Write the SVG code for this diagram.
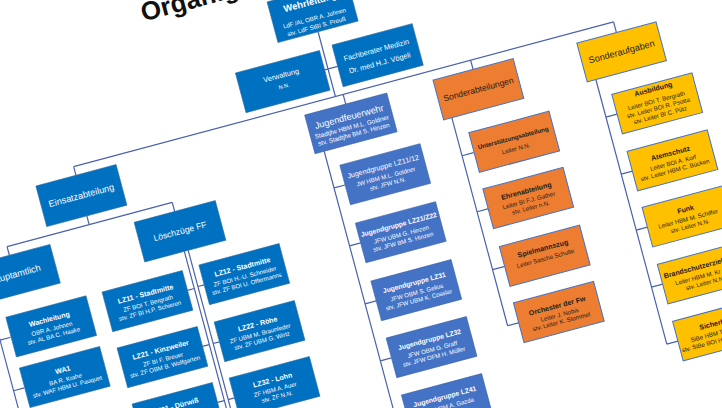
<svg xmlns="http://www.w3.org/2000/svg" width="722" height="408" viewBox="0 0 722 408">
<style>
text{font-family:"Liberation Sans",Arial,sans-serif;text-anchor:middle}
.b{fill:#0070C0;stroke:#2E6DA4;stroke-width:.6}
.j{fill:#4472C4;stroke:#3A62AA;stroke-width:.6}
.o{fill:#ED7D31;stroke:#4472C4;stroke-width:1}
.y{fill:#FFC000;stroke:#4472C4;stroke-width:1}
.w{fill:#fff}
.d{fill:#1c1c1c}
.h1{font-size:9.2px}
.h2{font-size:7.4px}
.tb{font-size:7.1px;font-weight:700}
.s{font-size:6.1px}
.st{text-anchor:start}
.conn path{fill:none;stroke:#4A62AD;stroke-width:1.2}
</style>
<defs>
<rect id="r" x="-41.5" y="-20.5" width="83" height="41"/>
</defs>
<rect width="722" height="408" fill="#fff"/>
<g transform="rotate(-15)">
<text x="133" y="58" style="font-size:26px;font-weight:700;text-anchor:start;fill:#111">Organigramm</text>

<g id="connectors" class="conn">
<path d="M299,113V180M295.5,151.5H309"/>
<path d="M28,180H587M28,180V189.5M307,180V190M439,180V189.5M587,180V191"/>
<path d="M28,231V240M-57,240H114M-57,240V249M114,240V249.5"/>
<path d="M-88,289V440M-88,328.5H-77M-88,381H-77"/>
<path d="M113,290.5V480M117,290.5V480M106,329H113M106,387H113M106,445H113M117,328H123.5M117,387H123.5M117,445H123.5"/>
<path d="M274,230V540M274,268H285.5M274,328H285.5M274,388H285.5M274,447H285.5M274,506H285.5"/>
<path d="M406,230.5V446M406,270H418M406,328H418M406,388H418M406,446H418"/>
<path d="M555,231V505M555,270H566.5M555,329H566.5M555,387H566.5M555,446H566.5M555,505H566.5"/>
</g>

<g id="n-wehrleitung" transform="translate(299,92)">
<rect class="b" x="-41.5" y="-21" width="83" height="42"/>
<text class="w" y="-6.5" style="font-size:9.5px;font-weight:700">Wehrleitung</text>
<text class="w s" y="9">LdF /AL OBR A. Johnen</text>
<text class="w s" y="17.5">stv. LdF StBI S. Preuß</text>
</g>

<g id="n-verwaltung" transform="translate(252,152)">
<rect class="b" x="-43.5" y="-20.5" width="87" height="41"/>
<text class="w h2" y="-3.9">Verwaltung</text>
<text class="w" y="6.6" style="font-size:5.5px">N.N.</text>
</g>

<g id="n-fachberater" transform="translate(350.5,151)">
<rect class="b" x="-41.5" y="-21.5" width="83" height="43"/>
<text class="w h2" y="-2.8">Fachberater Medizin</text>
<text class="w h2" y="10.6">Dr. med H.J. Vögeli</text>
</g>

<g id="n-jugendfeuerwehr" transform="translate(307,210)">
<rect class="j" x="-42.5" y="-20" width="85" height="40"/>
<text class="w h1" y="-3.7">Jugendfeuerwehr</text>
<text class="w" y="5.8" style="font-size:6.3px">Stadtjfw HBM M.L. Goldner</text>
<text class="w" y="13.4" style="font-size:6.3px">stv. Stadtjfw BM S. Hinzen</text>
</g>

<g id="n-sonderabteilungen" transform="translate(439,210)">
<use href="#r" class="o"/>
<text class="d" y="3" style="font-size:8.6px">Sonderabteilungen</text>
</g>

<g id="n-sonderaufgaben" transform="translate(587,211)">
<rect class="y" x="-41" y="-20" width="82" height="40"/>
<text class="d h1" y="3">Sonderaufgaben</text>
</g>

<g id="n-einsatzabteilung" transform="translate(28,210)">
<rect class="b" x="-41.5" y="-21" width="83" height="42"/>
<text class="w h1" y="3">Einsatzabteilung</text>
</g>

<g id="n-hauptamtlich" transform="translate(-57,269)">
<rect class="b" x="-42" y="-20" width="84" height="40"/>
<text class="w h1" y="3">Hauptamtlich</text>
</g>

<g id="n-loeschzuege" transform="translate(114,270)">
<rect class="b" x="-42" y="-20.5" width="84" height="41"/>
<text class="w" y="3" style="font-size:8.6px">Löschzüge FF</text>
</g>

<g id="n-wachleitung" transform="translate(-35,328.5)">
<use href="#r" class="b"/>
<text class="w tb" y="-5">Wachleitung</text>
<text class="w s" y="4.5">OBR A. Johnen</text>
<text class="w s" y="12">stv.  AL BA C. Haake</text>
</g>

<g id="n-wa1" transform="translate(-35,381)">
<use href="#r" class="b"/>
<text class="w tb" y="-5">WA1</text>
<text class="w s" y="4.5">BA R. Krahe</text>
<text class="w s" y="12">stv. WAF HBM U. Pauquet</text>
</g>

<g id="n-lz11" transform="translate(64.5,329)">
<use href="#r" class="b"/>
<text class="w tb" y="-5">LZ11 - Stadtmitte</text>
<text class="w s" y="4.5">ZF BOI T. Bergrath</text>
<text class="w s" y="12">stv. ZF BI H.P. Schieren</text>
</g>

<g id="n-lz12" transform="translate(165,328)">
<use href="#r" class="b"/>
<text class="w tb" y="-5">LZ12 - Stadtmitte</text>
<text class="w s" y="4.5">ZF BOI H.-U. Schneider</text>
<text class="w s" y="12">stv. ZF  BOI U. Offermanns</text>
</g>

<g id="n-lz21" transform="translate(64.5,387)">
<use href="#r" class="b"/>
<text class="w tb" y="-5">LZ21 - Kinzweiler</text>
<text class="w s" y="4.5">ZF BI F. Breuer</text>
<text class="w s" y="12">stv. ZF OBM B. Wolfgarten</text>
</g>

<g id="n-lz22" transform="translate(165,387)">
<use href="#r" class="b"/>
<text class="w tb" y="-5">LZ22 - Röhe</text>
<text class="w s" y="4.5">ZF  UBM M. Braunleder</text>
<text class="w s" y="12">stv. ZF  UBM G. Wirtz</text>
</g>

<g id="n-lz31" transform="translate(64.5,445)">
<use href="#r" class="b"/>
<text class="w tb" y="-5">LZ31 - Dürwiß</text>
</g>

<g id="n-lz32" transform="translate(165,445)">
<use href="#r" class="b"/>
<text class="w tb" y="-5">LZ32 - Lohn</text>
<text class="w s" y="4.5">ZF HBM A. Auer</text>
<text class="w s" y="12">stv. ZF N.N.</text>
</g>

<g id="n-jg1112" transform="translate(327,268)">
<use href="#r" class="j"/>
<text class="w" y="-5.5" style="font-size:7.2px">Jugendgruppe LZ11/12</text>
<text class="w s" y="4.5">JW HBM M.L. Goldner</text>
<text class="w s" y="12">stv. JFW N.N.</text>
</g>

<g id="n-jg2122" transform="translate(327,328)">
<use href="#r" class="j"/>
<text class="w tb" y="-5.5" style="font-size:6.8px">Jugendgruppe LZ21/Z22</text>
<text class="w s" y="4.5">JFW UBM G. Hinzen</text>
<text class="w s" y="12">stv. JFW BM S. Hinzen</text>
</g>

<g id="n-jg31" transform="translate(327,388)">
<use href="#r" class="j"/>
<text class="w tb" y="-5.5" style="font-size:6.8px">Jugendgruppe LZ31</text>
<text class="w s" y="4.5">JFW OBM S. Gelius</text>
<text class="w s" y="12">stv. JFW UBM K. Cosslar</text>
</g>

<g id="n-jg32" transform="translate(327,447)">
<use href="#r" class="j"/>
<text class="w tb" y="-5.5" style="font-size:6.8px">Jugendgruppe LZ32</text>
<text class="w s" y="4.5">JFW OBM G. Graff</text>
<text class="w s" y="12">stv. JFW OFM H. Müller</text>
</g>

<g id="n-jg41" transform="translate(327,506)">
<use href="#r" class="j"/>
<text class="w tb" y="-5.5" style="font-size:6.8px">Jugendgruppe LZ41</text>
<text class="w s" y="4.5">JFW UBM A. Gazda</text>
</g>

<g id="n-unterstuetzung" transform="translate(460,270)">
<use href="#r" class="o"/>
<text class="d" y="-1.9" style="font-size:6.2px;font-weight:700">Unterstützungsabteilung</text>
<text class="d s" y="9.2">Leiter N.N.</text>
</g>

<g id="n-ehrenabteilung" transform="translate(459,328)">
<use href="#r" class="o"/>
<text class="d tb" y="-5">Ehrenabteilung</text>
<text class="d s" y="4.5">Leiter BI F.J. Gather</text>
<text class="d s" y="12">stv. Leiter n.N.</text>
</g>

<g id="n-spielmannszug" transform="translate(460,388)">
<use href="#r" class="o"/>
<text class="d tb" y="-5">Spielmannszug</text>
<text class="d s" y="4.8">Leiter Sascha Schulte</text>
</g>

<g id="n-orchester" transform="translate(459,446)">
<use href="#r" class="o"/>
<text class="d tb" y="-4">Orchester der Fw</text>
<text class="d s" y="5">Leiter J. Nobis</text>
<text class="d s" y="12">stv. Leiter K. Stommel</text>
</g>

<g id="n-ausbildung" transform="translate(608,270)">
<use href="#r" class="y"/>
<text class="d tb" y="-12.5">Ausbildung</text>
<text class="d s" y="-0.8">Leiter BOI T. Bergrath</text>
<text class="d s" y="6.6">stv. Leiter BOI R. Psotta</text>
<text class="d s" y="14.2">stv. Leiter BI C. Pütz</text>
</g>

<g id="n-atemschutz" transform="translate(608,329)">
<use href="#r" class="y"/>
<text class="d tb" y="-5">Atemschutz</text>
<text class="d s" y="4.5">Leiter BOI A. Korf</text>
<text class="d s" y="12">stv. Leiter HBM C. Bücken</text>
</g>

<g id="n-funk" transform="translate(608,387)">
<use href="#r" class="y"/>
<text class="d tb" y="-5">Funk</text>
<text class="d s" y="4.5">Leiter HBM M. Schiffer</text>
<text class="d s" y="12">stv. Leiter N.N.</text>
</g>

<g id="n-brandschutz" transform="translate(608,446)">
<use href="#r" class="y"/>
<text class="d tb" y="-5">Brandschutzerziehung</text>
<text class="d s st" x="-29" y="4.5">Leiter HBM M. Kr</text>
<text class="d s" y="12">stv. Leiter N.N.</text>
</g>

<g id="n-sicherheit" transform="translate(608,505)">
<use href="#r" class="y"/>
<text class="d tb" y="-5">Sicherheit</text>
<text class="d s st" x="-29" y="4.5">SiBe HBM T.</text>
<text class="d s st" x="-40" y="12">stv. SiBe BOI H.</text>
</g>
</g>
</svg>
